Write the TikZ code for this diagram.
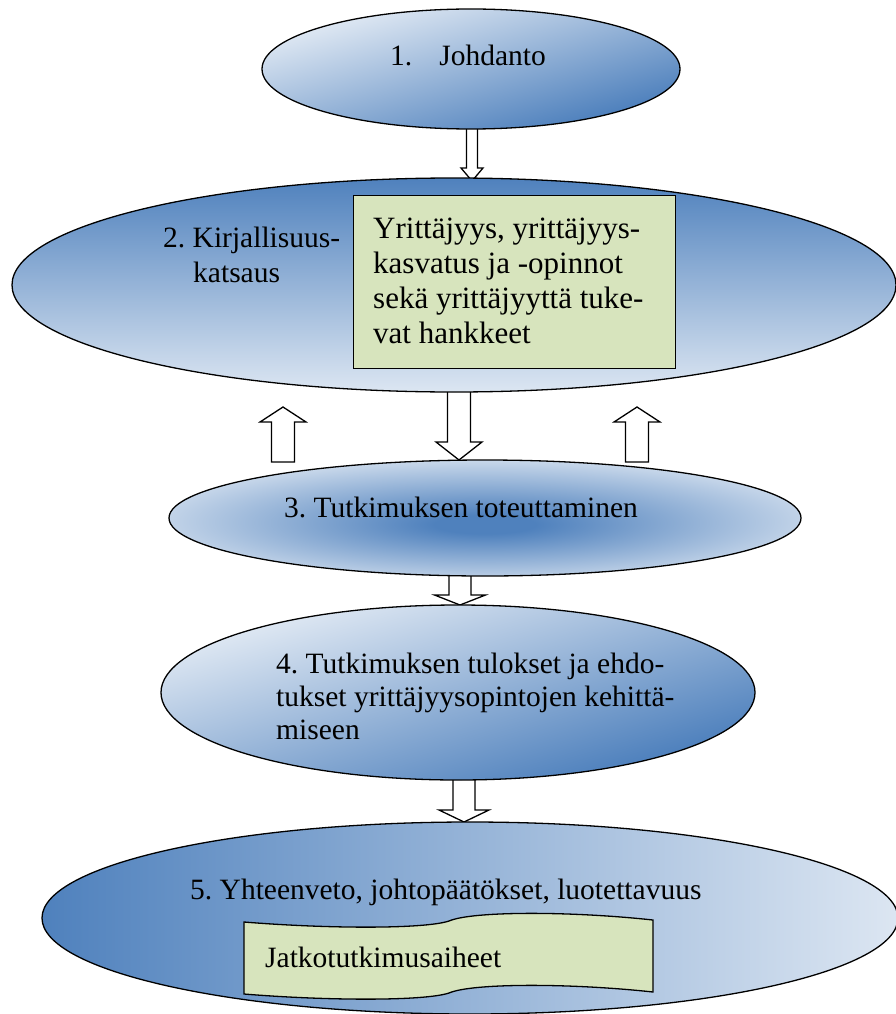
\documentclass[tikz,border=0pt]{standalone}
\usepackage{fontspec}
\setmainfont{Liberation Serif}
\frenchspacing
\usetikzlibrary{shapes.geometric}
\definecolor{dblue}{RGB}{79,129,189}
\definecolor{lblue}{RGB}{220,230,242}
\definecolor{lgreen}{RGB}{215,228,189}
\pgfdeclareradialshading{stageradial}{\pgfpoint{0bp}{-3bp}}{color(0bp)=(dblue); color(4bp)=(dblue); color(30bp)=(lblue); color(50bp)=(lblue)}
\tikzset{
  stage/.style={ellipse, draw=black, line width=1.3pt, inner sep=0pt},
  blockarrow/.style={draw=black, fill=white, line width=1.3pt, line join=miter},
  txt/.style={inner sep=0pt, anchor=base west, font=\fontsize{29.5}{33}\selectfont},
  boxtxt/.style={inner sep=0pt, anchor=base west, align=flush left, text width=300pt, font=\fontsize{31}{35}\selectfont},
  greenbox/.style={draw=black, fill=lgreen, line width=1.3pt, inner sep=0pt},
  diagshade/.style={top color=lblue, bottom color=dblue, shading angle=45},
}
% down arrow: x, y of shaft top, y of tip, shaft half width, head half width, head height
\newcommand\blockdn[6]{\draw[blockarrow] ({#1-#4},#2) -- ({#1+#4},#2) -- ({#1+#4},{#3-#6}) -- ({#1+#5},{#3-#6}) -- (#1,#3) -- ({#1-#5},{#3-#6}) -- ({#1-#4},{#3-#6}) -- cycle;}
% up arrow: x, y of tip, y of shaft bottom, shaft half width, head half width, head height
\newcommand\blockup[6]{\draw[blockarrow] ({#1-#4},#3) -- ({#1+#4},#3) -- ({#1+#4},{#2+#6}) -- ({#1+#5},{#2+#6}) -- (#1,#2) -- ({#1-#5},{#2+#6}) -- ({#1-#4},{#2+#6}) -- cycle;}
\begin{document}
\begin{tikzpicture}[x=1pt,y=-1pt]
\useasboundingbox (0,0) rectangle (896,1014);

% arrows (drawn first, ellipses cover shaft starts)
\blockdn{472}{120}{181}{5.5}{11}{13}
\blockdn{459}{385}{460}{11.5}{23}{18}
\blockup{283}{407}{462}{11.5}{23}{15}
\blockup{637}{407}{462}{11.5}{23}{15}
\blockdn{460}{570}{605}{11}{25.5}{10}
\blockdn{464}{775}{822}{11}{25}{12}

% 1
\begin{scope}[transform canvas={shift={(471,69)}, xscale=209/60}]
  \shade[diagshade] (0,0) circle[radius=60pt];
\end{scope}
\node[stage, minimum width=418pt, minimum height=120pt] (e1) at (471,69) {};
\node[txt] (t1) at (390,66) {1.\hspace{27pt}Johdanto};

% 2
\node[stage, minimum width=884pt, minimum height=214pt,
      top color=dblue, bottom color=lblue] (e2) at (454,285) {};
\node[greenbox, minimum width=322pt, minimum height=173pt, anchor=north west] (b2) at (353,195) {};
\node[txt] (t2a) at (163,247) {2. Kirjallisuus-};
\node[txt] (t2b) at (193,282) {katsaus};
\node[boxtxt] (t2c) at (373,238) {Yrittäjyys, yrittäjyys-\\kasvatus ja -opinnot\\sekä yrittäjyyttä tuke-\\vat hankkeet};

% 3
\node[stage, minimum width=632pt, minimum height=116pt, shading=stageradial] (e3) at (485,518) {};
\node[txt] (t3) at (284,517) {3. Tutkimuksen toteuttaminen};

% 4
\begin{scope}[transform canvas={shift={(458,692.5)}, xscale=297/87.5}]
  \shade[diagshade] (0,0) circle[radius=87.5pt];
\end{scope}
\node[stage, minimum width=594pt, minimum height=175pt] (e4) at (458,692.5) {};
\node[txt, align=flush left, text width=500pt] (t4) at (276,673) {4. Tutkimuksen tulokset ja ehdo-\\tukset yrittäjyysopintojen kehittä-\\miseen};

% 5
\node[stage, minimum width=856pt, minimum height=192pt,
      left color=dblue, right color=lblue] (e5) at (470,918) {};
\node[txt] (t5) at (190,899) {5. Yhteenveto, johtopäätökset, luotettavuus};
\draw[fill=lgreen, line width=1.3pt]
  (244,922) .. controls (330,929) and (425,929) .. (449,921)
            .. controls (472,911) and (570,911) .. (653,920)
  -- (653,992) .. controls (570,983) and (472,983) .. (449,993)
            .. controls (425,1001) and (330,1001) .. (244,994) -- cycle;
\node[txt] (t6) at (265,967) {Jatkotutkimusaiheet};
\end{tikzpicture}
\end{document}
